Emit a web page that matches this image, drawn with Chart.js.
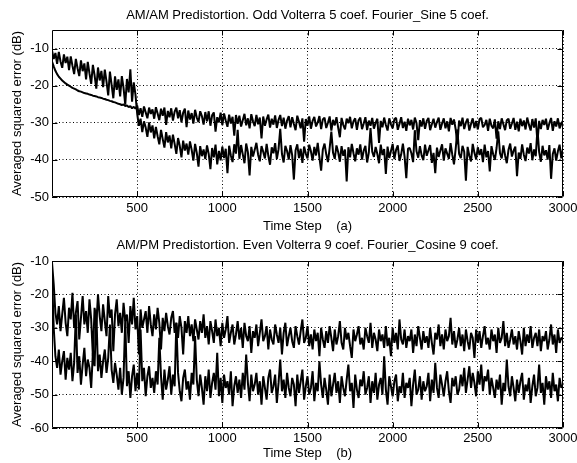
<!DOCTYPE html>
<html>
<head>
<meta charset="utf-8">
<title>AM/AM and AM/PM predistortion learning curves</title>
<script src="https://cdn.jsdelivr.net/npm/chart.js@4.4.1/dist/chart.umd.min.js"></script>
<style>
  html, body { margin: 0; padding: 0; background: #fff; }
  .panel { position: absolute; left: 0; width: 577px; }
  #panelA { top: 0; height: 240px; }
  #panelB { top: 232px; height: 231px; }
</style>
</head>
<body>
<div class="panel" id="panelA"><canvas id="chartA" width="577" height="240"></canvas></div>
<div class="panel" id="panelB"><canvas id="chartB" width="577" height="231"></canvas></div>
<script>
// one sample every 10 time steps, 0 .. 3000 (one row = 100 steps)
const timeStep = 10;
const xTicks = [500, 1000, 1500, 2000, 2500, 3000];
const yTicksA = [-50, -40, -30, -20, -10];
const yTicksB = [-60, -50, -40, -30, -20, -10];

// (a) AM/AM, dB
const amamSmooth = [
  -13.5, -14.8, -16.0, -16.9, -17.6, -18.1, -18.6, -19.0, -19.4, -19.7,
  -20.0, -20.3, -20.6, -20.8, -21.0, -21.3, -21.5, -21.6, -21.8, -22.0,
  -22.1, -22.2, -22.4, -22.5, -22.7, -22.8, -22.9, -23.1, -23.2, -23.3,
  -23.5, -23.6, -23.8, -23.9, -24.1, -24.2, -24.4, -24.5, -24.7, -24.9,
  -25.0, -25.2, -25.1, -25.5, -25.3, -25.8, -25.5, -26.1, -25.7, -26.2,
  -25.3, -27.9, -26.1, -28.4, -25.6, -27.2, -28.8, -25.9, -27.6, -26.4,
  -28.9, -25.8, -27.5, -29.3, -26.2, -28.1, -25.9, -30.6, -26.8, -28.5,
  -26.1, -29.4, -27.0, -25.9, -28.8, -26.6, -29.9, -27.3, -26.2, -31.2,
  -26.7, -29.1, -27.4, -30.2, -26.5, -28.6, -29.8, -26.9, -28.2, -30.5,
  -27.1, -29.6, -26.9, -30.8, -28.0, -27.2, -32.4, -28.5, -29.9, -27.3,
  -30.6, -27.5, -29.4, -31.1, -27.8, -30.2, -28.4, -33.5, -27.9, -30.3,
  -28.1, -31.0, -29.3, -27.6, -30.7, -28.8, -31.5, -27.7, -29.6, -30.9,
  -27.9, -30.4, -28.6, -34.2, -28.3, -30.8, -29.1, -27.8, -31.3, -28.9,
  -30.5, -28.0, -31.4, -29.2, -27.9, -30.9, -28.6, -31.6, -29.4, -28.2,
  -31.2, -28.5, -30.3, -32.0, -28.1, -29.7, -31.5, -28.8, -35.1, -29.0,
  -30.8, -28.3, -31.6, -29.5, -28.4, -31.0, -29.9, -28.2, -31.7, -29.1,
  -28.6, -31.4, -30.0, -28.3, -32.1, -29.2, -30.7, -28.5, -31.3, -33.9,
  -28.7, -30.6, -31.8, -28.9, -30.1, -28.4, -31.5, -29.6, -28.8, -31.9,
  -29.3, -28.6, -31.7, -30.2, -28.5, -32.0, -29.4, -30.8, -28.7, -31.6,
  -30.0, -28.9, -35.4, -29.5, -31.2, -28.6, -30.6, -32.1, -28.8, -30.4,
  -31.5, -29.0, -28.7, -31.9, -30.3, -28.5, -31.4, -29.7, -32.2, -28.9,
  -30.7, -29.2, -31.8, -28.6, -30.1, -34.7, -29.3, -31.0, -28.8, -31.6,
  -29.5, -28.7, -32.0, -30.4, -28.9, -31.3, -29.8, -28.6, -31.9, -30.2,
  -28.8, -31.5, -29.6, -32.3, -28.7, -30.5, -29.1, -31.8, -35.8, -29.4,
  -30.9, -28.6, -31.7, -29.9, -28.9, -32.1, -30.3, -28.8, -31.4, -29.5,
  -31.8, -29.0, -28.7, -31.2, -30.6, -29.2, -32.2, -28.9, -30.8, -31.5,
  -29.1, -34.3, -29.6, -31.7, -28.8, -30.4, -32.0, -29.3, -28.9, -31.6,
  -30.2, -28.7, -31.9, -29.7, -32.3, -28.9, -30.9, -29.4, -31.8, -28.6,
  -30.5, -32.1, -29.0, -31.3, -28.8, -35.2, -29.5, -31.7, -29.2, -30.6,
  -28.9, -31.9, -30.1, -28.7, -32.2, -29.6, -31.0, -28.8, -31.5, -30.3,
  -29.4
];
const amamNoisy = [
  -10.5, -12.8, -11.2, -14.1, -10.9, -13.5, -15.2, -11.6, -13.9, -12.2,
  -15.8, -12.1, -14.6, -16.9, -12.8, -15.3, -17.4, -13.2, -16.1, -14.0,
  -18.3, -13.6, -16.7, -19.5, -14.4, -17.2, -20.8, -15.1, -18.6, -16.0,
  -20.4, -15.7, -18.9, -22.6, -16.2, -19.8, -23.4, -17.5, -21.1, -18.3,
  -22.9, -17.4, -20.6, -25.1, -18.2, -21.8, -15.6, -24.3, -19.1, -22.4,
  -27.5, -30.8, -28.9, -32.5, -29.6, -31.3, -33.8, -29.9, -32.6, -30.7,
  -34.2, -31.1, -33.6, -35.8, -31.9, -34.4, -36.7, -32.5, -35.3, -33.4,
  -36.9, -33.2, -35.7, -38.4, -34.1, -36.2, -39.3, -34.8, -37.5, -35.6,
  -38.6, -35.0, -37.3, -40.2, -35.7, -38.1, -41.8, -36.3, -39.0, -37.2,
  -39.8, -36.1, -38.4, -42.5, -36.8, -39.3, -35.9, -41.2, -37.6, -40.1,
  -36.4, -39.5, -37.0, -43.6, -36.2, -38.8, -40.6, -35.8, -38.3, -31.9,
  -39.7, -36.0, -38.5, -40.9, -35.6, -37.9, -44.2, -36.5, -39.1, -37.3,
  -35.4, -38.6, -40.4, -36.3, -37.8, -39.6, -35.7, -38.9, -41.3, -36.6,
  -38.2, -35.5, -39.8, -37.1, -31.6, -38.4, -40.7, -36.2, -37.6, -39.9,
  -36.0, -38.7, -45.3, -37.4, -35.8, -39.5, -37.0, -40.8, -36.4, -38.3,
  -39.6, -35.9, -37.7, -40.2, -36.5, -38.8, -35.4, -39.4, -42.9, -37.2,
  -35.6, -38.5, -40.6, -36.8, -32.4, -38.1, -39.7, -36.1, -37.9, -40.5,
  -36.3, -38.9, -37.2, -45.8, -36.6, -39.3, -35.7, -38.2, -40.4, -36.9,
  -38.6, -35.8, -39.9, -37.5, -36.2, -40.7, -38.0, -31.4, -37.8, -39.2,
  -36.5, -38.4, -40.9, -35.9, -38.7, -37.1, -43.8, -36.4, -39.5, -37.6,
  -35.7, -39.8, -37.3, -36.1, -40.3, -38.5, -35.6, -39.1, -44.9, -37.0,
  -36.8, -38.2, -40.6, -32.0, -37.7, -39.4, -36.3, -38.8, -40.1, -35.9,
  -38.9, -37.4, -36.0, -40.8, -38.1, -43.6, -36.7, -39.2, -37.5, -35.8,
  -40.2, -36.9, -38.3, -39.7, -35.5, -38.6, -41.2, -37.0, -31.8, -38.4,
  -39.5, -36.2, -37.8, -45.6, -36.5, -38.9, -40.4, -35.7, -38.1, -39.8,
  -36.6, -38.7, -37.1, -40.6, -35.9, -39.3, -37.6, -43.1, -36.3, -38.5,
  -40.0, -36.8, -32.3, -38.2, -39.6, -36.1, -38.8, -40.9, -37.3, -35.6,
  -39.1, -37.5, -36.4, -44.4, -38.0, -39.7, -35.8, -38.6, -40.3, -36.7,
  -38.3, -35.5, -40.1, -37.2, -39.0, -31.7, -37.9, -40.5, -36.2, -38.8,
  -37.4, -39.9, -36.0, -45.1, -38.4, -36.9, -40.2, -37.7, -35.9, -39.6,
  -37.0
];

// (b) AM/PM, dB
const ampmUpper = [
  -10.5, -17.0, -25.5, -29.0, -23.5, -31.0, -26.0, -21.0, -28.5, -32.5,
  -24.0, -27.5, -19.5, -30.0, -25.5, -22.0, -33.5, -27.0, -20.5, -29.0,
  -25.0, -31.5, -21.5, -27.5, -38.5, -24.0, -29.5, -20.0, -26.5, -31.0,
  -23.0, -28.0, -32.5, -20.5, -27.0, -24.5, -37.0, -26.0, -21.5, -29.5,
  -25.5, -31.5, -22.5, -28.0, -26.0, -34.5, -23.5, -29.0, -21.0, -30.5,
  -26.5, -38.0, -24.5, -30.0, -27.5, -25.0, -31.5, -23.5, -29.0, -32.5,
  -26.0, -30.5, -24.0, -28.5, -36.5, -27.0, -31.0, -25.5, -29.5, -32.0,
  -27.0, -25.0, -31.5, -28.5, -33.0, -26.5, -30.0, -38.0, -28.0, -31.5,
  -26.5, -32.5, -29.0, -34.0, -27.5, -30.5, -33.5, -28.0, -31.5, -26.0,
  -33.0, -29.5, -35.0, -28.0, -31.0, -34.5, -27.5, -32.5, -30.0, -35.5,
  -28.5, -33.0, -30.5, -26.5, -34.5, -31.5, -29.0, -35.0, -32.0, -28.0,
  -33.5, -30.0, -36.0, -28.5, -32.5, -34.0, -29.5, -37.5, -31.0, -33.0,
  -29.0, -35.5, -31.5, -27.5, -34.0, -32.5, -29.5, -36.5, -30.5, -33.5,
  -35.0, -29.0, -32.0, -34.5, -30.0, -38.0, -31.5, -28.5, -35.5, -32.5,
  -30.0, -34.0, -36.0, -29.5, -32.5, -35.0, -31.0, -27.5, -34.5, -33.0,
  -29.5, -35.5, -32.0, -36.5, -30.5, -34.0, -31.5, -38.5, -30.0, -33.5,
  -36.0, -31.0, -34.5, -29.5, -33.0, -37.0, -30.5, -35.0, -32.5, -28.0,
  -34.5, -36.5, -30.0, -33.5, -31.5, -35.5, -39.0, -30.5, -34.0, -32.0,
  -29.5, -35.0, -33.0, -36.5, -30.0, -32.5, -34.5, -28.5, -36.0, -31.5,
  -33.5, -37.0, -30.5, -34.0, -32.0, -36.0, -29.5, -35.5, -33.0, -38.5,
  -30.0, -34.5, -31.5, -36.5, -27.5, -33.5, -35.0, -30.5, -36.0, -32.5,
  -34.0, -30.5, -37.5, -32.0, -35.5, -29.5, -33.0, -36.5, -31.0, -34.5,
  -32.5, -36.0, -30.0, -34.5, -38.0, -31.5, -33.5, -29.0, -35.5, -32.0,
  -36.5, -30.5, -34.0, -32.5, -27.0, -35.0, -31.0, -36.0, -33.5, -30.0,
  -35.5, -32.0, -37.0, -30.5, -34.0, -36.5, -31.5, -33.0, -39.0, -30.5,
  -34.5, -31.0, -36.0, -32.5, -29.5, -35.0, -33.0, -36.5, -30.5, -34.0,
  -32.0, -37.5, -30.0, -34.5, -33.0, -28.0, -35.5, -31.5, -36.0, -33.5,
  -30.5, -35.0, -32.5, -36.5, -31.0, -34.0, -38.0, -30.0, -35.5, -32.0,
  -34.5, -29.5, -36.0, -33.0, -31.5, -35.5, -30.5, -37.0, -32.5, -34.0,
  -31.0, -36.5, -33.5, -29.0, -35.0, -32.0, -37.5, -30.5, -34.5, -33.0,
  -33.5
];
const ampmLower = [
  -14.0, -30.0, -38.5, -42.0, -36.5, -44.0, -40.0, -37.0, -45.5, -39.0,
  -42.5, -37.5, -46.0, -40.5, -26.0, -43.5, -38.5, -47.0, -41.0, -36.0,
  -44.5, -39.5, -42.0, -48.0, -37.5, -41.5, -24.5, -43.0, -38.0, -45.0,
  -40.0, -36.5, -43.5, -39.0, -29.0, -42.5, -46.5, -40.5, -44.0, -48.5,
  -42.0, -50.0, -45.0, -27.5, -47.5, -43.0, -51.0, -44.5, -41.0, -49.0,
  -43.5, -48.5, -30.5, -46.0, -42.0, -50.5, -44.5, -41.5, -48.0, -45.0,
  -49.5, -43.0, -47.0, -33.0, -44.5, -51.5, -42.5, -48.5, -45.5, -41.5,
  -50.0, -44.0, -47.5, -28.5, -43.5, -49.0, -52.0, -45.0, -42.5, -48.5,
  -46.0, -51.5, -43.5, -47.0, -32.5, -45.5, -50.5, -44.0, -48.0, -53.0,
  -44.5, -49.0, -42.5, -51.0, -46.5, -43.5, -48.5, -37.5, -50.5, -45.0,
  -52.5, -44.0, -48.0, -46.0, -50.0, -43.0, -53.5, -47.5, -44.5, -49.5,
  -45.5, -51.0, -43.5, -48.5, -38.0, -46.5, -52.0, -44.0, -49.0, -47.0,
  -43.5, -50.0, -46.0, -53.0, -44.5, -48.0, -51.5, -45.0, -42.5, -49.5,
  -47.5, -44.0, -52.5, -46.5, -39.5, -49.0, -45.5, -51.0, -43.5, -48.0,
  -50.5, -45.0, -47.0, -53.5, -44.0, -49.5, -46.0, -42.5, -51.5, -47.5,
  -44.5, -50.0, -48.0, -43.0, -52.0, -46.5, -49.0, -40.0, -47.0, -51.0,
  -45.0, -48.5, -53.0, -44.0, -50.5, -47.0, -43.5, -49.5, -46.0, -52.5,
  -44.5, -48.0, -50.5, -45.5, -41.0, -49.0, -46.5, -54.0, -44.0, -48.5,
  -51.0, -45.5, -47.5, -43.0, -50.0, -48.0, -44.5, -52.5, -46.0, -49.5,
  -43.5, -51.5, -47.0, -45.0, -50.0, -38.5, -48.5, -53.0, -44.5, -47.5,
  -50.5, -46.0, -44.0, -52.0, -47.5, -49.5, -43.5, -51.0, -46.5, -48.0,
  -45.0, -53.5, -47.0, -42.5, -50.0, -48.5, -44.5, -51.5, -46.0, -49.0,
  -47.5, -43.5, -52.0, -45.5, -49.5, -40.5, -48.0, -51.0, -44.0, -47.0,
  -50.5, -46.0, -43.0, -49.0, -52.5, -45.0, -47.5, -44.5, -50.0, -48.5,
  -44.0, -47.5, -42.0, -49.5, -45.5, -41.5, -48.0, -43.5, -46.5, -50.5,
  -43.0, -47.0, -41.0, -49.0, -44.5, -46.0, -42.5, -50.0, -45.0, -48.0,
  -51.0, -45.5, -48.5, -44.0, -53.0, -46.5, -49.0, -39.5, -47.5, -50.5,
  -44.5, -48.0, -52.0, -45.5, -49.5, -46.0, -43.5, -51.5, -47.0, -49.0,
  -45.0, -52.5, -47.5, -44.0, -50.5, -48.0, -41.0, -49.5, -46.5, -53.0,
  -44.5, -48.5, -46.0, -51.0, -43.5, -49.0, -47.0, -52.0, -45.0, -48.0,
  -47.0
];

const font = { family: "'Liberation Sans', Arial, sans-serif", size: 13, weight: "normal" };

// matlab style box round the plot, ticks pointing inwards
const axesBox = {
  id: "axesBox",
  afterDraw(chart) {
    const { ctx, chartArea, scales } = chart;
    const left = Math.round(chartArea.left) + 0.5;
    const right = Math.round(chartArea.right) - 0.5;
    const top = Math.round(chartArea.top) + 0.5;
    const bottom = Math.round(chartArea.bottom) - 0.5;
    ctx.save();
    ctx.strokeStyle = "#000";
    ctx.lineWidth = 1;
    ctx.beginPath();
    ctx.rect(left, top, right - left, bottom - top);
    scales.x.ticks.forEach((t) => {
      const px = Math.round(scales.x.getPixelForValue(t.value)) + 0.5;
      ctx.moveTo(px, bottom);
      ctx.lineTo(px, bottom - 5);
      ctx.moveTo(px, top);
      ctx.lineTo(px, top + 5);
    });
    scales.y.ticks.forEach((t) => {
      const py = Math.round(scales.y.getPixelForValue(t.value)) + 0.5;
      ctx.moveTo(left, py);
      ctx.lineTo(left + 5, py);
      ctx.moveTo(right, py);
      ctx.lineTo(right - 5, py);
    });
    ctx.stroke();
    ctx.restore();
  },
};

function drawPanel(canvasId, panel) {
  return new Chart(document.getElementById(canvasId), {
    type: "line",
    data: {
      datasets: panel.series.map((values) => ({
        data: values.map((v, i) => ({ x: i * timeStep, y: v })),
        borderColor: "#000",
        borderWidth: 2,
        borderJoinStyle: "bevel",
        pointRadius: 0,
        tension: 0,
        fill: false,
      })),
    },
    options: {
      responsive: false,
      animation: false,
      events: [],
      layout: { padding: { left: 0, right: 14, top: 0, bottom: 0 } },
      plugins: {
        legend: { display: false },
        tooltip: { enabled: false },
        title: {
          display: true,
          text: panel.title,
          fullSize: false,
          color: "#000",
          font,
          padding: panel.titlePad,
        },
      },
      scales: {
        x: {
          type: "linear",
          min: 0,
          max: 3000,
          bounds: "data",
          afterBuildTicks: (s) => {
            s.ticks = xTicks.map((v) => ({ value: v }));
          },
          afterFit: (s) => {
            s.height = panel.xAxisHeight;
            s.paddingLeft = 0;
            s.paddingRight = 0;
          },
          ticks: {
            autoSkip: false,
            maxRotation: 0,
            padding: panel.xTickPad,
            color: "#000",
            font,
            callback: (v) => String(v),
          },
          grid: { color: "#000", lineWidth: 1, drawTicks: false },
          border: { display: false, dash: [1, 2.5] },
          title: {
            display: true,
            text: panel.xTitle,
            color: "#000",
            font,
            padding: { top: 0, bottom: panel.xTitlePad },
          },
        },
        y: {
          type: "linear",
          min: panel.yMin,
          max: panel.yMax,
          bounds: "data",
          afterBuildTicks: (s) => {
            s.ticks = panel.yTicks.map((v) => ({ value: v }));
          },
          afterFit: (s) => {
            s.width = 52;
            s.paddingTop = 0;
            s.paddingBottom = 0;
          },
          ticks: {
            autoSkip: false,
            padding: 3,
            color: "#000",
            font,
            callback: (v) => String(v),
          },
          grid: { color: "#000", lineWidth: 1, drawTicks: false },
          border: { display: false, dash: [1, 2.5] },
          title: {
            display: true,
            text: "Averaged squared error (dB)",
            color: "#000",
            font,
            padding: { top: 9.2, bottom: 0 },
          },
        },
      },
    },
    plugins: [axesBox],
  });
}

drawPanel("chartA", {
  title: "AM/AM Predistortion. Odd Volterra 5 coef. Fourier_Sine 5 coef.",
  titlePad: { top: 7.2, bottom: 7.2 },
  xTitle: "Time Step    (a)",
  xAxisHeight: 43,
  xTickPad: 4,
  xTitlePad: 6.2,
  yMin: -50,
  yMax: -5,
  yTicks: yTicksA,
  series: [amamNoisy, amamSmooth],
});

drawPanel("chartB", {
  title: "AM/PM Predistortion. Even Volterra 9 coef. Fourier_Cosine 9 coef.",
  titlePad: { top: 5.2, bottom: 8.2 },
  xTitle: "Time Step    (b)",
  xAxisHeight: 35,
  xTickPad: 3,
  xTitlePad: 1.9,
  yMin: -60,
  yMax: -10,
  yTicks: yTicksB,
  series: [ampmLower, ampmUpper],
});
</script>
</body>
</html>
